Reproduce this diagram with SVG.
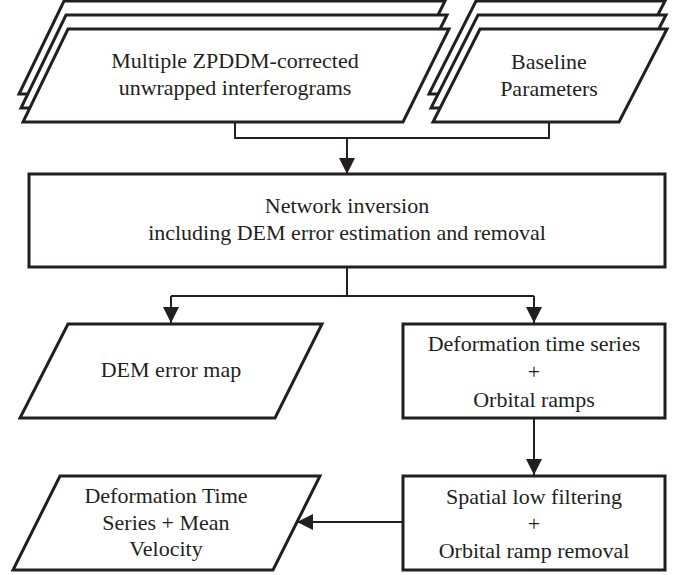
<svg xmlns="http://www.w3.org/2000/svg" width="682" height="575" viewBox="0 0 682 575">
  <defs>
    <marker id="arrow" markerWidth="16" markerHeight="16" refX="16" refY="8" orient="auto" markerUnits="userSpaceOnUse">
      <path d="M0,0 L16,8 L0,16 Z" fill="#231f20"/>
    </marker>
  </defs>
  <style>
    .shape { fill: #ffffff; stroke: #231f20; stroke-width: 3; stroke-linejoin: miter; }
    .conn { fill: none; stroke: #231f20; stroke-width: 2; }
    .t { font-family: 'Liberation Serif', 'Times New Roman', serif; font-size: 22px; fill: #231f20; text-anchor: middle; }
  </style>
  <rect width="682" height="575" fill="#ffffff"/>

  <g id="connectors">
    <polyline class="conn" points="235,122 235,138 549,138 549,122"/>
    <line class="conn" x1="347" y1="138" x2="347" y2="174" marker-end="url(#arrow)"/>
    <polyline class="conn" points="347,267 347,296"/>
    <polyline class="conn" points="171,296 534,296"/>
    <line class="conn" x1="171" y1="296" x2="171" y2="323" marker-end="url(#arrow)"/>
    <line class="conn" x1="534" y1="296" x2="534" y2="323" marker-end="url(#arrow)"/>
    <line class="conn" x1="534" y1="418" x2="534" y2="475" marker-end="url(#arrow)"/>
    <line class="conn" x1="403" y1="522" x2="297" y2="522" marker-end="url(#arrow)"/>
  </g>

  <g id="interferograms">
    <polygon class="shape" points="64,1 445,1 399,94 19,94"/>
    <polygon class="shape" points="66,15 447,15 401,108 21,108"/>
    <polygon class="shape" points="68,29 449,29 403,122 23,122"/>
    <text class="t" x="235" y="68">Multiple ZPDDM-corrected</text>
    <text class="t" x="235" y="95">unwrapped interferograms</text>
  </g>

  <g id="baseline">
    <polygon class="shape" points="476,1 665,1 617,94 429,94"/>
    <polygon class="shape" points="478,15 666,15 618,108 431,108"/>
    <polygon class="shape" points="480,29 667,29 619,122 433,122"/>
    <text class="t" x="549" y="69">Baseline</text>
    <text class="t" x="549" y="96">Parameters</text>
  </g>

  <g id="network-inversion">
    <rect class="shape" x="29" y="174" width="636" height="93"/>
    <text class="t" x="347" y="213">Network inversion</text>
    <text class="t" x="347" y="240">including DEM error estimation and removal</text>
  </g>

  <g id="dem-error-map">
    <polygon class="shape" points="68,324 322,324 275,418 20,418"/>
    <text class="t" x="171" y="377">DEM error map</text>
  </g>

  <g id="deformation-ramps">
    <rect class="shape" x="403" y="324" width="262" height="94"/>
    <text class="t" x="534" y="351">Deformation time series</text>
    <text class="t" x="534" y="379">+</text>
    <text class="t" x="534" y="407">Orbital ramps</text>
  </g>

  <g id="spatial-filtering">
    <rect class="shape" x="403" y="476" width="262" height="94"/>
    <text class="t" x="534" y="504">Spatial low filtering</text>
    <text class="t" x="534" y="531">+</text>
    <text class="t" x="534" y="558">Orbital ramp removal</text>
  </g>

  <g id="velocity">
    <polygon class="shape" points="60,476 320,476 273,570 13,570"/>
    <text class="t" x="166" y="503">Deformation Time</text>
    <text class="t" x="166" y="530">Series + Mean</text>
    <text class="t" x="166" y="556">Velocity</text>
  </g>
</svg>
